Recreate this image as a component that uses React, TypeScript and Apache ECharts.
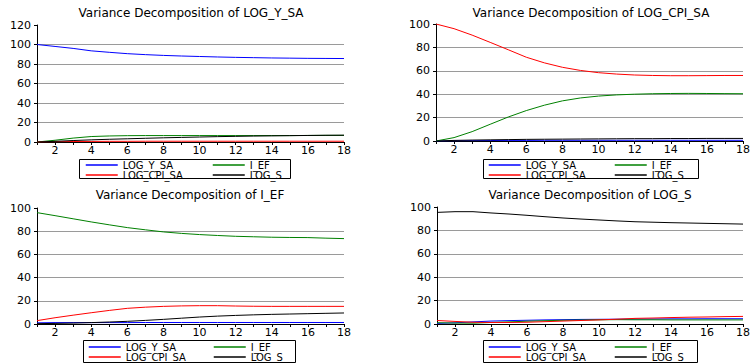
import React, { useEffect, useRef } from "react";
import * as echarts from "echarts";

const steps = [1, 2, 3, 4, 5, 6, 7, 8, 9, 10, 11, 12, 13, 14, 15, 16, 17, 18];
const varNames = ["LOG_Y_SA", "I_EF", "LOG_CPI_SA", "LOG_S"];
const varColors = ["#0000ff", "#008000", "#ff0000", "#000000"];
const panelTitles = [
  "Variance Decomposition of LOG_Y_SA",
  "Variance Decomposition of LOG_CPI_SA",
  "Variance Decomposition of I_EF",
  "Variance Decomposition of LOG_S",
];
const yMaxes = [120, 100, 100, 100];

// Panel 1: Variance Decomposition of LOG_Y_SA
const p1LogY = [100, 98, 96, 93.5, 92, 90.6, 89.6, 88.8, 88.2, 87.7, 87.2, 86.8, 86.5, 86.2, 86, 85.8, 85.7, 85.6];
const p1Ief = [0, 1.8, 4, 5.6, 6.2, 6.5, 6.6, 6.6, 6.6, 6.6, 6.6, 6.6, 6.6, 6.6, 6.6, 6.7, 6.8, 6.8];
const p1Cpi = [0, 0.3, 0.5, 0.6, 0.7, 0.7, 0.8, 0.8, 0.8, 0.8, 0.8, 0.8, 0.8, 0.8, 0.8, 0.8, 0.8, 0.8];
const p1LogS = [0, 0.7, 1.5, 2.2, 2.8, 3.3, 3.8, 4.3, 4.7, 5.1, 5.5, 5.8, 6.1, 6.3, 6.5, 6.7, 6.9, 7.0];

// Panel 2: Variance Decomposition of LOG_CPI_SA
const p2LogY = [0, 0.2, 0.3, 0.4, 0.5, 0.5, 0.6, 0.6, 0.6, 0.6, 0.6, 0.6, 0.6, 0.6, 0.6, 0.6, 0.6, 0.6];
const p2Ief = [0, 2.9, 8, 14.3, 20.5, 26, 30.6, 34.3, 36.8, 38.4, 39.4, 40, 40.4, 40.6, 40.7, 40.6, 40.5, 40.4];
const p2Cpi = [100, 96, 90.5, 84.3, 78, 71.6, 66.8, 63, 60.3, 58.4, 57.2, 56.4, 56, 55.8, 55.8, 55.9, 56, 56];
const p2LogS = [0, 0.5, 0.8, 1.0, 1.2, 1.4, 1.5, 1.6, 1.7, 1.8, 1.9, 2.0, 2.0, 2.1, 2.1, 2.2, 2.2, 2.2];

// Panel 3: Variance Decomposition of I_EF
const p3LogY = [1.0, 1.2, 1.2, 1.2, 1.2, 1.2, 1.3, 1.3, 1.3, 1.3, 1.3, 1.3, 1.3, 1.3, 1.3, 1.3, 1.3, 1.3];
const p3Ief = [96, 93.4, 90.7, 88, 85.5, 83.1, 81.2, 79.4, 78.1, 77.1, 76.3, 75.6, 75.2, 74.8, 74.6, 74.5, 74, 73.6];
const p3Cpi = [2.9, 5.4, 7.6, 9.7, 11.7, 13.5, 14.5, 15.2, 15.6, 15.8, 15.8, 15.5, 15.3, 15.2, 15.2, 15.2, 15.2, 15.2];
const p3LogS = [0.3, 0.5, 0.8, 1.2, 1.7, 2.3, 3.1, 4, 5, 6, 6.8, 7.4, 7.9, 8.3, 8.6, 8.9, 9.2, 9.5];

// Panel 4: Variance Decomposition of LOG_S
const p4LogY = [0.5, 1, 1.8, 2.5, 2.9, 3.2, 3.5, 3.7, 3.9, 4, 4.1, 4.2, 4.3, 4.4, 4.4, 4.5, 4.5, 4.5];
const p4Ief = [1.1, 0.8, 0.7, 1.3, 1.8, 2.4, 2.8, 3.2, 3.4, 3.6, 3.7, 3.6, 3.6, 3.5, 3.5, 3.5, 3.5, 3.5];
const p4Cpi = [3, 2.2, 1.5, 1.3, 1.3, 1.5, 2, 2.5, 3, 3.5, 4.1, 4.8, 5.1, 5.5, 5.8, 6, 6.3, 6.5];
const p4LogS = [95.4, 96, 96, 94.9, 94, 92.9, 91.7, 90.6, 89.7, 88.9, 88.1, 87.4, 87, 86.6, 86.3, 86, 85.7, 85.4];

const panelData = [
  [p1LogY, p1Ief, p1Cpi, p1LogS],
  [p2LogY, p2Ief, p2Cpi, p2LogS],
  [p3LogY, p3Ief, p3Cpi, p3LogS],
  [p4LogY, p4Ief, p4Cpi, p4LogS],
];

const FONT = "DejaVu Sans";

const grids = [
  { left: 37, top: 25, width: 307, height: 117 },
  { left: 436, top: 24, width: 308, height: 117 },
  { left: 37, top: 208, width: 307, height: 116 },
  { left: 437, top: 207, width: 307, height: 117 },
];
const titlePos = [
  { x: 191, y: 13 },
  { x: 591, y: 13 },
  { x: 190, y: 195 },
  { x: 590, y: 195 },
];
const legendBoxes = [
  { x: 79, y: 159, w: 211, h: 19, lx: 85, rx: 212, ty: 160 },
  { x: 483, y: 159, w: 215, h: 19, lx: 488, rx: 614, ty: 160 },
  { x: 83, y: 340, w: 212, h: 22, lx: 88, rx: 213, ty: 342 },
  { x: 483, y: 340, w: 214, h: 22, lx: 488, rx: 614, ty: 342 },
];

export default function App() {
  const ref = useRef<HTMLDivElement>(null);
  useEffect(() => {
    if (!ref.current) return;
    const chart = echarts.init(ref.current, null, { renderer: "svg" });
    const series: any[] = [];
    panelData.forEach((vars, p) => {
      vars.forEach((arr, v) => {
        series.push({
          type: "line",
          name: varNames[v],
          xAxisIndex: p,
          yAxisIndex: p,
          data: steps.map((s, k) => [s, arr[k]]),
          symbol: "none",
          lineStyle: { color: varColors[v], width: 1 },
          itemStyle: { color: varColors[v] },
          z: 2,
        });
      });
    });
    const legends: any[] = [];
    legendBoxes.forEach((b) => {
      const common = {
        orient: "vertical",
        top: b.ty,
        height: 30,
        padding: 0,
        itemWidth: 32,
        itemHeight: 9,
        itemGap: 0,
        selectedMode: false,
        itemStyle: { opacity: 0 },
        lineStyle: { width: 1.5 },
        textStyle: { fontFamily: FONT, fontSize: 10, color: "#000", lineHeight: 9 },
      };
      legends.push({ ...common, left: b.lx, data: ["LOG_Y_SA", "LOG_CPI_SA"] });
      legends.push({ ...common, left: b.rx, data: ["I_EF", "LOG_S"] });
    });
    const graphics: any[] = [];
    panelTitles.forEach((t, i) => {
      graphics.push({
        type: "text",
        x: titlePos[i].x,
        y: titlePos[i].y,
        style: {
          text: t,
          fontFamily: FONT,
          fontSize: 12,
          fill: "#000",
          textAlign: "center",
          textVerticalAlign: "middle",
        },
      });
    });
    legendBoxes.forEach((b) => {
      graphics.push({
        type: "rect",
        shape: { x: b.x + 0.5, y: b.y + 0.5, width: b.w, height: b.h },
        style: { fill: "none", stroke: "#000", lineWidth: 1 },
        z: 10,
      });
    });
    const option: any = {
      animation: false,
      backgroundColor: "#fff",
      grid: grids,
      xAxis: grids.map((_, i) => ({
        gridIndex: i,
        type: "value",
        min: 1,
        max: 18,
        interval: 1,
        axisLine: { show: true, lineStyle: { color: "#000", width: 1 } },
        axisTick: { show: true, length: 3, lineStyle: { color: "#000" } },
        axisLabel: {
          formatter: (v: number) => (v % 2 === 0 ? String(v) : ""),
          fontFamily: FONT,
          fontSize: 11,
          color: "#000",
          margin: 3,
        },
        splitLine: { show: false },
      })),
      yAxis: grids.map((_, i) => ({
        gridIndex: i,
        type: "value",
        min: 0,
        max: yMaxes[i],
        interval: 20,
        axisLine: { show: true, lineStyle: { color: "#000", width: 1 } },
        axisTick: { show: true, length: 3, lineStyle: { color: "#000" } },
        axisLabel: { fontFamily: FONT, fontSize: 11, color: "#000", margin: 6 },
        splitLine: {
          show: true,
          showMinLine: false,
          showMaxLine: false,
          lineStyle: { color: "#9a9a9a", width: 1 },
        },
      })),
      legend: legends,
      graphic: graphics,
      series,
    };
    chart.setOption(option);
    return () => chart.dispose();
  }, []);
  return (
    <div
      ref={ref}
      style={{ position: "fixed", left: 0, top: 0, width: 753, height: 363 }}
    />
  );
}
